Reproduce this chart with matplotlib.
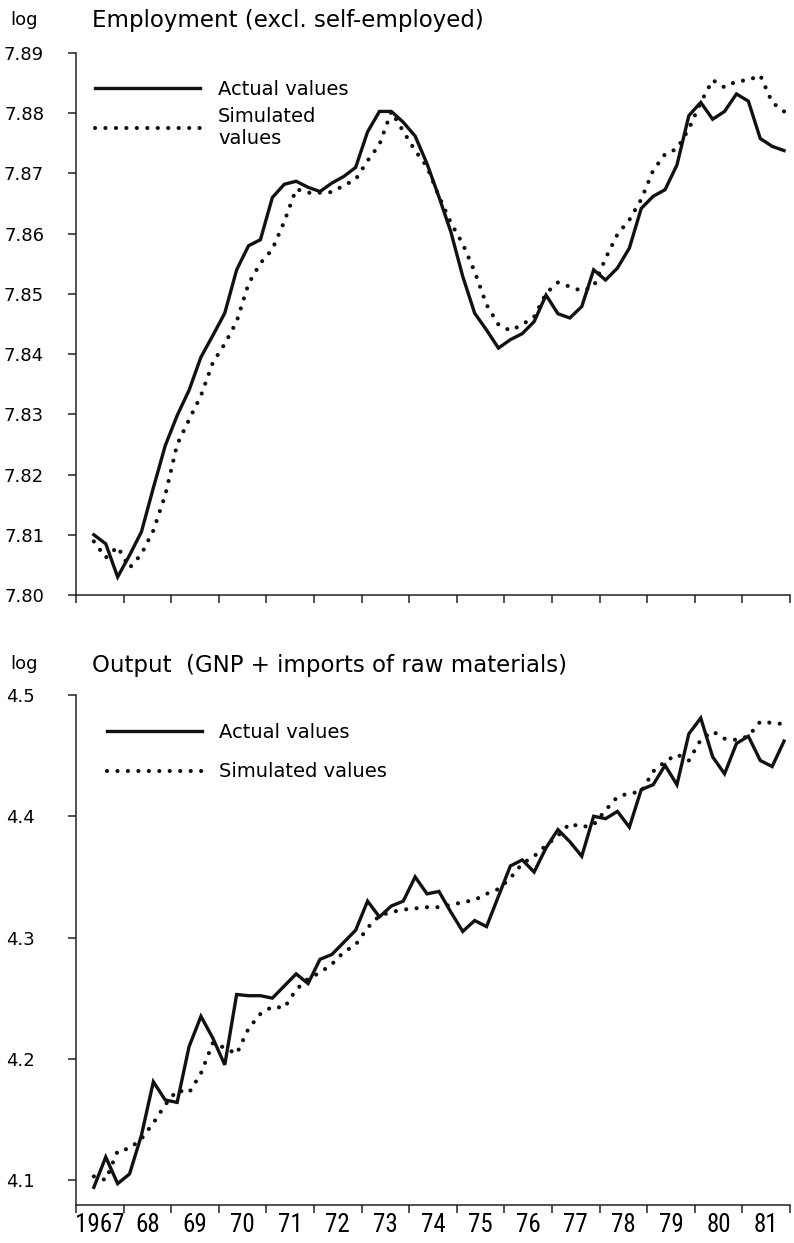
import matplotlib.pyplot as plt
import numpy as np
import pandas as pd
from matplotlib import font_manager

# quarterly data, 1967Q2 - 1981Q4
quarters = pd.period_range('1967Q2', '1981Q4', freq='Q')

emp_actual = [7.8100, 7.8085, 7.8030, 7.8066, 7.8105, 7.8178, 7.8248, 7.8298, 7.8340, 7.8395,
              7.8431, 7.8468, 7.8540, 7.8580, 7.8590, 7.8660, 7.8682, 7.8687, 7.8677, 7.8670,
              7.8684, 7.8695, 7.8710, 7.8769, 7.8803, 7.8803, 7.8785, 7.8762, 7.8716, 7.8661,
              7.8603, 7.8529, 7.8468, 7.8440, 7.8410, 7.8424, 7.8434, 7.8454, 7.8498, 7.8467,
              7.8460, 7.8479, 7.8540, 7.8523, 7.8543, 7.8576, 7.8642, 7.8662, 7.8673, 7.8714,
              7.8796, 7.8818, 7.8790, 7.8803, 7.8832, 7.8820, 7.8758, 7.8745, 7.8738]
emp_simulated = [7.8089, 7.8062, 7.8080, 7.8045, 7.8068, 7.8107, 7.8166, 7.8250, 7.8291, 7.8331,
                 7.8386, 7.8417, 7.8454, 7.8517, 7.8551, 7.8574, 7.8620, 7.8674, 7.8668, 7.8668,
                 7.8669, 7.8680, 7.8690, 7.8721, 7.8748, 7.8803, 7.8770, 7.8738, 7.8711, 7.8662,
                 7.8618, 7.8583, 7.8537, 7.8482, 7.8449, 7.8439, 7.8449, 7.8462, 7.8501, 7.8519,
                 7.8512, 7.8505, 7.8512, 7.8559, 7.8599, 7.8623, 7.8657, 7.8705, 7.8732, 7.8741,
                 7.8774, 7.8818, 7.8855, 7.8843, 7.8853, 7.8855, 7.8863, 7.8818, 7.8803]

out_actual = [4.094, 4.119, 4.097, 4.105, 4.137, 4.181, 4.166, 4.164, 4.210, 4.235,
              4.217, 4.195, 4.253, 4.252, 4.252, 4.250, 4.260, 4.270, 4.262, 4.282,
              4.286, 4.296, 4.306, 4.330, 4.317, 4.326, 4.330, 4.350, 4.336, 4.338,
              4.321, 4.305, 4.314, 4.309, 4.334, 4.359, 4.364, 4.354, 4.374, 4.389,
              4.379, 4.367, 4.400, 4.398, 4.404, 4.391, 4.422, 4.426, 4.442, 4.426,
              4.468, 4.481, 4.449, 4.435, 4.460, 4.466, 4.446, 4.441, 4.462]
out_simulated = [4.103, 4.100, 4.124, 4.126, 4.134, 4.147, 4.162, 4.174, 4.172, 4.188,
                 4.213, 4.209, 4.204, 4.225, 4.237, 4.243, 4.242, 4.257, 4.266, 4.271,
                 4.278, 4.288, 4.294, 4.308, 4.318, 4.321, 4.323, 4.324, 4.325, 4.325,
                 4.327, 4.329, 4.331, 4.336, 4.340, 4.349, 4.361, 4.367, 4.376, 4.384,
                 4.394, 4.391, 4.393, 4.405, 4.416, 4.419, 4.420, 4.437, 4.445, 4.451,
                 4.446, 4.463, 4.470, 4.464, 4.463, 4.466, 4.478, 4.477, 4.476]

years = list(range(1967, 1983))
year_labels = ['1967', '68', '69', '70', '71', '72', '73', '74', '75', '76', '77',
               '78', '79', '80', '81']
emp_ticks = [7.80, 7.81, 7.82, 7.83, 7.84, 7.85, 7.86, 7.87, 7.88, 7.89]
out_ticks = [4.1, 4.2, 4.3, 4.4, 4.5]

x = quarters.year + (quarters.quarter - 0.5) / 4

# narrow face for the year labels, if one is installed
available = {f.name for f in font_manager.fontManager.ttflist}
xfont, xsize = 'Roboto', 15
for name in ['Liberation Sans Narrow', 'Roboto Condensed', 'DejaVu Sans Condensed']:
    if name in available:
        xfont, xsize = name, 18
        break

plt.rcParams['font.family'] = 'DejaVu Sans'

W, H = 794, 1243
fig = plt.figure(figsize=(W / 100, H / 100), dpi=100)
left, right = 76 / W, 790 / W
ax1 = fig.add_axes([left, 1 - 595 / H, right - left, (595 - 53) / H])
ax2 = fig.add_axes([left, 1 - 1205 / H, right - left, (1205 - 695) / H])

dots = (0, (0.01, 2.5))
for ax, act, sim in [(ax1, emp_actual, emp_simulated), (ax2, out_actual, out_simulated)]:
    ax.plot(x, act, color='#111111', lw=2.4, solid_joinstyle='miter', label='Actual values')
    ax.plot(x, sim, color='#111111', lw=3.0, linestyle=dots, dash_capstyle='round',
            label='Simulated values')
    ax.set_xlim(1967, 1982)
    ax.set_xticks(years)
    ax.set_xticklabels([])
    for s in ['top', 'right']:
        ax.spines[s].set_visible(False)
    for s in ['left', 'bottom']:
        ax.spines[s].set_linewidth(1.1)
        ax.spines[s].set_color('#222222')
    ax.tick_params(axis='both', direction='out', length=6, width=1.1, color='#222222',
                   labelsize=13)

ax1.set_ylim(7.80, 7.89)
ax1.set_yticks(emp_ticks)
ax1.set_yticklabels(['%.2f' % v for v in emp_ticks])
ax1.tick_params(axis='y', pad=17)

ax2.set_ylim(4.0794, 4.5)
ax2.set_yticks(out_ticks)
ax2.set_yticklabels(['%.1f' % v for v in out_ticks])
ax2.tick_params(axis='y', pad=24)
ax2.set_xticks([y + 0.5 for y in years[:-1]], minor=True)
ax2.set_xticklabels(year_labels, minor=True, fontfamily=xfont, fontsize=xsize)
ax2.tick_params(axis='x', which='minor', length=0, pad=6)

# legends
h1, _ = ax1.get_legend_handles_labels()
ax1.legend(h1, ['Actual values', 'Simulated\nvalues'], loc='upper left',
           bbox_to_anchor=(0.026, 0.95), frameon=False, fontsize=14, borderpad=0,
           borderaxespad=0, handlelength=5.4, handletextpad=0.95, labelspacing=0.4)
h2, _ = ax2.get_legend_handles_labels()
ax2.legend(h2, ['Actual values', 'Simulated values'], loc='upper left',
           bbox_to_anchor=(0.043, 0.945), frameon=False, fontsize=14, borderpad=0,
           borderaxespad=0, handlelength=4.9, handletextpad=0.9, labelspacing=1.05)

# titles and axis units
fig.text(10 / W, 1 - 20 / H, 'log', fontsize=13, va='center')
fig.text(92 / W, 1 - 20 / H, 'Employment (excl. self-employed)', fontsize=16.5, va='center')
fig.text(10 / W, 1 - 664 / H, 'log', fontsize=13, va='center')
fig.text(92 / W, 1 - 666 / H, 'Output  (GNP + imports of raw materials)', fontsize=16.5,
         va='center')

plt.savefig('out.png', dpi=100)
